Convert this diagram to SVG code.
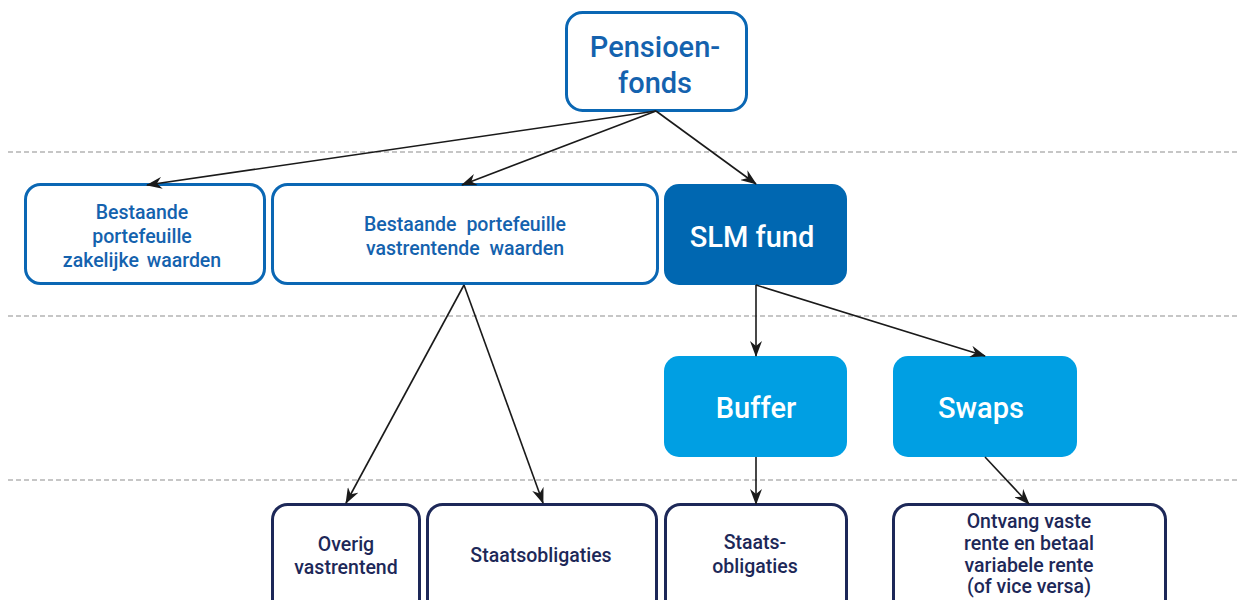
<svg xmlns="http://www.w3.org/2000/svg" width="1237" height="600" viewBox="0 0 1237 600">
<style>
.sep{stroke:#b4b4b4;stroke-width:1.5;stroke-dasharray:5,3;fill:none}
.ob{fill:#fff;stroke:#0a67b4;stroke-width:3}
.nb{fill:#fff;stroke:#1d2858;stroke-width:3}
.t{font-family:Roboto,"Noto Sans",sans-serif;font-weight:500;text-anchor:middle}
.tb{fill:#1462ae;font-size:19.500px}
.tn{fill:#1d2858;font-size:19.500px}
.tw{fill:#fff;font-size:29px}
.con line{stroke:#1a1a1a;stroke-width:1.6;marker-end:url(#ah)}
</style>
<defs>
<marker id="ah" viewBox="0 0 16 12" refX="15" refY="6" markerWidth="16" markerHeight="12" markerUnits="userSpaceOnUse" orient="auto">
<path d="M0,0 L16,6 L0,12 L5,6 Z" fill="#1a1a1a"/>
</marker>
</defs>
<rect width="1237" height="600" fill="#fff"/>
<g id="separators">
<line class="sep" x1="8" y1="152" x2="1237" y2="152"/>
<line class="sep" x1="8" y1="316" x2="1237" y2="316"/>
<line class="sep" x1="8" y1="480" x2="1237" y2="480"/>
</g>
<g id="pensioenfonds">
<rect class="ob" x="566.500" y="12.500" width="180" height="98" rx="16"/>
<text class="t" x="655" y="57" fill="#1462ae" font-size="29">Pensioen-</text>
<text class="t" x="655" y="93" fill="#1462ae" font-size="29">fonds</text>
</g>
<g id="zakelijk">
<rect class="ob" x="25.500" y="184.500" width="239" height="99" rx="15"/>
<text class="t tb" x="142" y="219">Bestaande</text>
<text class="t tb" x="142" y="243">portefeuille</text>
<text class="t tb" x="142" y="267" word-spacing="3">zakelijke waarden</text>
</g>
<g id="vastrentend">
<rect class="ob" x="272.500" y="184.500" width="385" height="99" rx="15"/>
<text class="t tb" x="465" y="231" word-spacing="5">Bestaande portefeuille</text>
<text class="t tb" x="465" y="255" word-spacing="5">vastrentende waarden</text>
</g>
<g id="slm">
<rect x="664" y="184" width="183" height="101" rx="15" fill="#0067b1"/>
<text class="t tw" x="752" y="247">SLM fund</text>
</g>
<g id="buffer">
<rect x="664" y="356" width="183" height="101" rx="15" fill="#009fe3"/>
<text class="t tw" x="756" y="418">Buffer</text>
</g>
<g id="swaps">
<rect x="893" y="356" width="184" height="101" rx="15" fill="#009fe3"/>
<text class="t tw" x="981" y="418">Swaps</text>
</g>
<g id="overig">
<rect class="nb" x="272.500" y="504.500" width="147" height="110" rx="15"/>
<text class="t tn" x="346" y="551">Overig</text>
<text class="t tn" x="346" y="574">vastrentend</text>
</g>
<g id="staatsobligaties">
<rect class="nb" x="427.500" y="504.500" width="229" height="110" rx="15"/>
<text class="t tn" x="541" y="562">Staatsobligaties</text>
</g>
<g id="staats2">
<rect class="nb" x="665.500" y="504.500" width="181" height="110" rx="15"/>
<text class="t tn" x="755" y="549">Staats-</text>
<text class="t tn" x="755" y="573">obligaties</text>
</g>
<g id="ontvang">
<rect class="nb" x="893.500" y="504.500" width="272" height="110" rx="15"/>
<text class="t tn" x="1029" y="528">Ontvang vaste</text>
<text class="t tn" x="1029" y="550">rente en betaal</text>
<text class="t tn" x="1029" y="572">variabele rente</text>
<text class="t tn" x="1029" y="593">(of vice versa)</text>
</g>
<g id="connectors" class="con">
<line x1="656" y1="111" x2="147" y2="185"/>
<line x1="656" y1="111" x2="462" y2="185"/>
<line x1="656" y1="111" x2="756" y2="184"/>
<line x1="464" y1="285" x2="346" y2="503"/>
<line x1="464" y1="285" x2="543" y2="503"/>
<line x1="756" y1="285" x2="756" y2="356"/>
<line x1="756" y1="285" x2="985" y2="356"/>
<line x1="756" y1="457" x2="756" y2="504"/>
<line x1="985" y1="457" x2="1029" y2="504"/>
</g>
</svg>
